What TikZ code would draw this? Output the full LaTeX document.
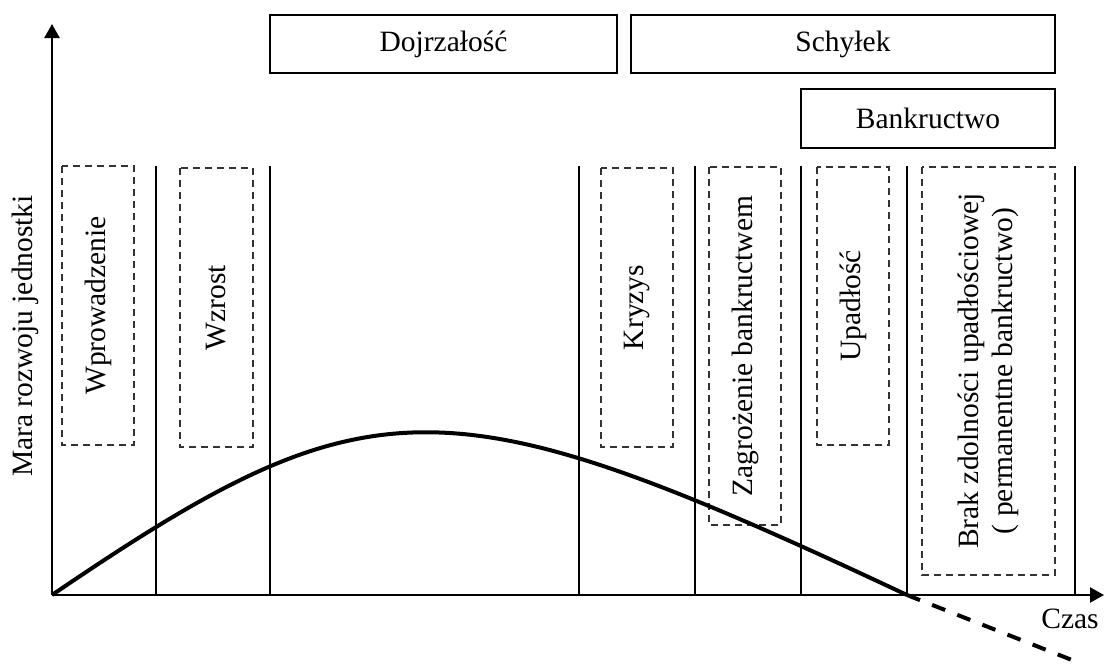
\documentclass[tikz,border=0pt]{standalone}
\usepackage{fontspec}
\setmainfont{Liberation Serif}
\usetikzlibrary{arrows.meta}
\begin{document}
\begin{tikzpicture}[x=1pt,y=-1pt,
  every node/.style={font=\fontsize{29.5}{34}\selectfont, inner sep=0pt},
  stagebox/.style={draw, line width=1.7pt},
  phasebox/.style={draw=black!80, line width=1.5pt, dash pattern=on 7pt off 5pt,
                   rotate=90, align=center},
  axisline/.style={line width=2.3pt, -{Triangle[width=15pt,length=14pt]}},
  divider/.style={line width=1.9pt},
  lifecurve/.style={line width=4pt},
  lifetail/.style={line width=4pt, dash pattern=on 14pt off 13pt}
]
\useasboundingbox (0,0) rectangle (1105,664);

% stage boxes along the top
\node[stagebox, minimum width=347pt, minimum height=58pt] (dojr) at (443.5,44) {Dojrzałość};
\node[stagebox, minimum width=424pt, minimum height=58pt] (schylek) at (843,44) {Schyłek};
\node[stagebox, minimum width=254pt, minimum height=59pt] (bankr) at (928,118.5) {Bankructwo};

% axes
\coordinate (origin) at (52,595);
\coordinate (ytip) at (52,24);
\coordinate (xtip) at (1104,595);
\draw[axisline] (origin) -- (ytip);
\draw[axisline] (origin) -- (xtip);
\node[rotate=90] (ylabel) at (25,336) {Mara rozwoju jednostki};
\node (xlabel) at (1070,619) {Czas};

% vertical phase dividers
\foreach \i/\x in {1/156,2/270,3/579,4/695,5/801,6/907,7/1075}{
  \coordinate (d\i top) at (\x,166);
  \coordinate (d\i bot) at (\x,595);
  \draw[divider] (d\i top) -- (d\i bot);
}

% phase labels (rotated dashed boxes)
\node[phasebox, minimum width=279pt, minimum height=72pt] (wprow) at (98,305.5) {Wprowadzenie};
\node[phasebox, minimum width=279pt, minimum height=73pt] (wzrost) at (216.5,307.5) {Wzrost};
\node[phasebox, minimum width=279pt, minimum height=72pt] (kryzys) at (637,307.5) {Kryzys};
\node[phasebox, minimum width=358pt, minimum height=72pt] (zagr) at (745,346) {Zagrożenie bankructwem};
\node[phasebox, minimum width=278pt, minimum height=72pt] (upad) at (853,306) {Upadłość};
\node[phasebox, minimum width=408pt, minimum height=133pt] (brak) at (988.5,371)
  {Brak zdolności upadłościowej\\( permanentne bankructwo)};

% life-cycle curve and its dashed continuation below the time axis
\coordinate (cend) at (907,595);
\coordinate (ctail) at (1077,662);
\draw[lifecurve] (origin) .. controls (371,378) and (445,378) .. (cend);
\draw[lifetail] (cend) -- (ctail);
\end{tikzpicture}
\end{document}
